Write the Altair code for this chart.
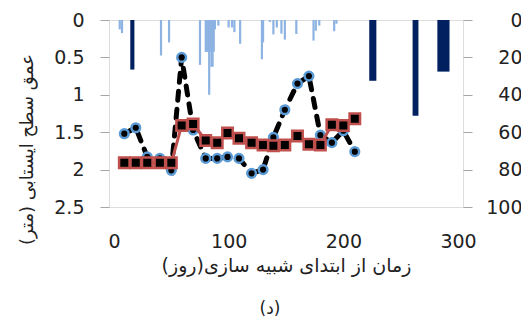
import altair as alt
import pandas as pd

# Simulated water table depth (m) - blue circles, dashed black line
days = [9, 19, 29, 40, 50, 59, 69, 80, 90, 99, 109, 120, 130, 139, 149, 160, 170, 180, 190, 200, 210]
depth_sim = [1.52, 1.44, 1.83, 1.85, 2.01, 0.50, 1.47, 1.85, 1.85, 1.83, 1.85, 2.05, 2.00, 1.57, 1.20, 0.85, 0.75, 1.54, 1.64, 1.48, 1.76]
# Observed water table depth (m) - red squares
depth_obs = [1.91, 1.91, 1.91, 1.91, 1.91, 1.41, 1.39, 1.61, 1.64, 1.51, 1.58, 1.64, 1.67, 1.68, 1.67, 1.55, 1.66, 1.67, 1.40, 1.41, 1.32]

# Rainfall (right axis) - light blue thin bars
rain_days = [5, 7, 41, 48, 75, 80, 81, 82, 83, 84, 85, 86, 87, 88, 91, 100, 103, 105, 110,
             129, 130, 136, 139, 142, 146, 149, 159, 174, 176, 179, 192, 194]
rain_vals = [5, 7, 19, 12, 24, 17, 17, 17, 40, 17, 25, 25, 17, 5, 3, 4, 4, 6.5, 12.7,
             21, 12, 1, 7.7, 4, 7.3, 10.5, 7.5, 11, 5.7, 3, 6, 2]

# Irrigation (right axis) - dark navy bars, start/end day
irr_start = [14.2, 222.6, 260.4, 282.0]
irr_end = [17.8, 228.8, 265.5, 292.6]
irr_vals = [26.5, 32.5, 51.2, 27.6]

FONT = "DejaVu Sans"
GRAY = "#a6a6a6"
TXT = "#222222"

sim = pd.DataFrame({"day": days, "depth": depth_sim})
obs = pd.DataFrame({"day": days, "depth": depth_obs})
rain = pd.DataFrame({"day": rain_days, "val": rain_vals})
irr = pd.DataFrame({"s": irr_start, "e": irr_end, "val": irr_vals})

x_enc = alt.X(
    "day:Q",
    scale=alt.Scale(domain=[0, 300], nice=False),
    axis=alt.Axis(
        values=[0, 100, 200, 300], title="زمان از ابتدای شبیه سازی(روز)",
        grid=False, domain=False, ticks=False, labelPadding=25,
        labelFontSize=19, labelFont=FONT, labelColor=TXT,
        titleFont=FONT, titleFontSize=19, titleFontWeight="normal",
        titleColor=TXT, titlePadding=5,
    ),
)

y_right = alt.Y(
    "val:Q",
    scale=alt.Scale(domain=[0, 100], reverse=True, nice=False),
    axis=alt.Axis(
        orient="right", values=[0, 20, 40, 60, 80, 100], title=None,
        grid=False, domain=False, tickColor=GRAY, tickSize=9,
        labelAlign="right", labelPadding=50, labelBaseline="middle",
        labelFontSize=19, labelFont=FONT, labelColor=TXT,
    ),
)

y_left = alt.Y(
    "depth:Q",
    scale=alt.Scale(domain=[0, 2.5], reverse=True, nice=False),
    axis=alt.Axis(
        orient="left", values=[0, 0.5, 1, 1.5, 2, 2.5], format=".1~f",
        title="عمق سطح ایستابی (متر)",
        grid=False, domain=False, tickColor=GRAY, tickSize=9,
        labelPadding=16, labelFontSize=19, labelFont=FONT, labelColor=TXT,
        titleFont=FONT, titleFontSize=18, titleFontWeight="normal", titleColor=TXT,
        titleAngle=-90, titleAlign="center", titleBaseline="middle",
        titleX=-82, titleY=129,
    ),
)

light = alt.Chart(rain).mark_bar(color="#8db3e2", size=2.2).encode(x=x_enc, y=y_right)
dark = alt.Chart(irr).mark_rect(color="#002060").encode(
    x=alt.X("s:Q", scale=alt.Scale(domain=[0, 300], nice=False)),
    x2="e:Q",
    y=y_right,
    y2=alt.datum(0),
)
bars = alt.layer(light, dark)

sim_line = alt.Chart(sim).mark_line(
    color="black", strokeWidth=5, strokeDash=[9, 9], strokeCap="round"
).encode(x=x_enc, y=y_left)
sim_pts = alt.Chart(sim).mark_circle(
    color="black", stroke="#5b9bd5", strokeWidth=2.5, size=75, opacity=1
).encode(x=x_enc, y=y_left)
obs_line = alt.Chart(obs).mark_line(color="#c0504d", strokeWidth=3).encode(x=x_enc, y=y_left)
obs_pts = alt.Chart(obs).mark_square(
    color="black", stroke="#c0504d", strokeWidth=2.5, size=110, opacity=1
).encode(x=x_enc, y=y_left)

lines = alt.layer(sim_line, sim_pts, obs_line, obs_pts)

chart = alt.layer(bars, lines).resolve_scale(y="independent").properties(
    width=354,
    height=187,
    autosize=alt.AutoSizeParams(type="none"),
    padding={"left": 101, "top": 12, "right": 58, "bottom": 120},
    title=alt.TitleParams(
        "(د)", orient="bottom", anchor="middle", dx=-16, offset=26,
        font=FONT, fontSize=17, fontWeight="normal", color=TXT,
    ),
).configure_view(stroke=GRAY, strokeWidth=1).configure(background="white")

chart.save("out.html", embed_options={"renderer": "svg", "actions": False})
